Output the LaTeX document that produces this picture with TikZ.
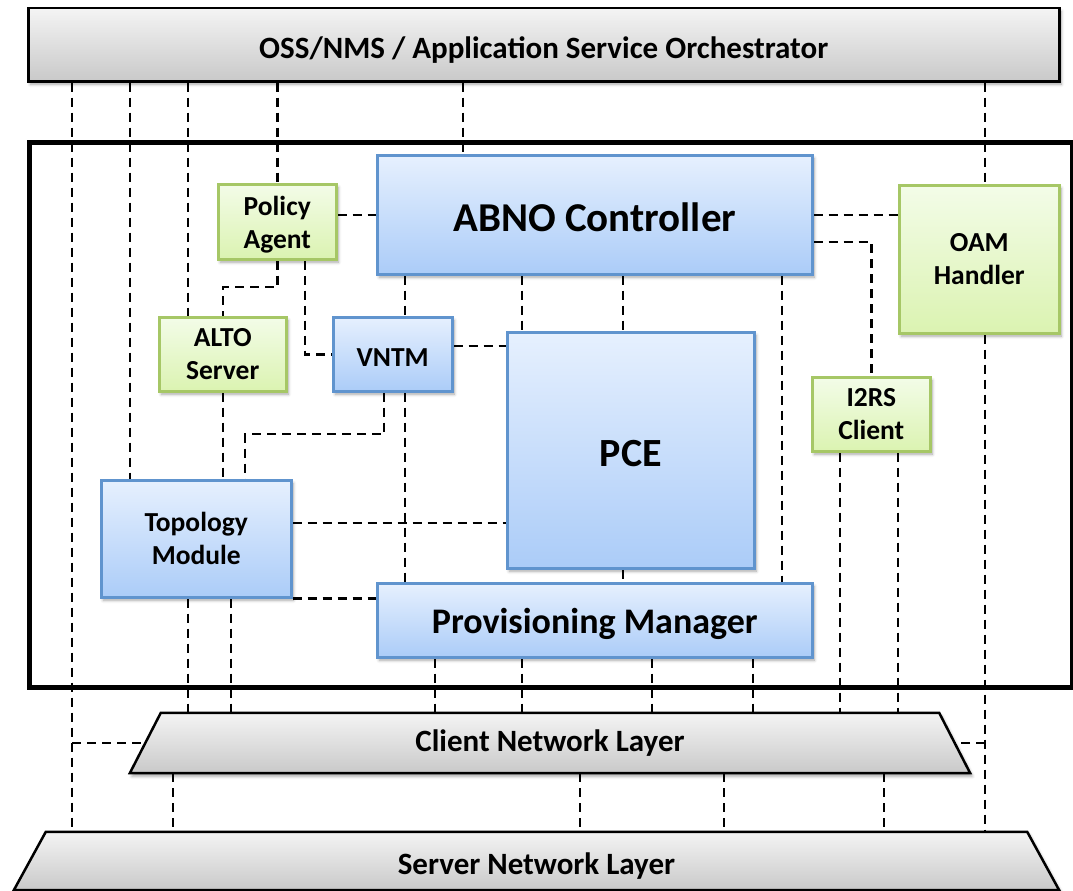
\documentclass[tikz,border=0pt]{standalone}
\usepackage{fontspec}
\setmainfont{Carlito}
\usetikzlibrary{shadows.blur,backgrounds}

\definecolor{blueTop}{HTML}{E6F0FE}
\definecolor{blueBot}{HTML}{ABCCF8}
\definecolor{blueLine}{HTML}{6094CE}
\definecolor{greenTop}{HTML}{F3FCE8}
\definecolor{greenBot}{HTML}{DBF3B1}
\definecolor{greenLine}{HTML}{A6C766}
\definecolor{barTop}{HTML}{F4F4F4}
\definecolor{barBot}{HTML}{C9C9C9}

% set a line of text lower without changing its reported size
\newcommand\dropline[2]{\raisebox{-#1}[\height][\depth]{#2}}

\pgfdeclarelayer{layershapes}
\pgfsetlayers{background,layershapes,main}

\tikzset{
  shadowed/.style={blur shadow={shadow xshift=2pt, shadow yshift=-3pt,
      shadow blur radius=3pt, shadow opacity=35}},
  block/.style={rectangle, anchor=north west, inner sep=0pt, align=center,
      shadowed},
  smalltext/.style={font=\bfseries\fontsize{27.5}{33}\selectfont},
  bluebox/.style={block, draw=blueLine, line width=2.5pt,
      top color=blueTop, bottom color=blueBot},
  greenbox/.style={block, draw=greenLine, line width=2.5pt,
      top color=greenTop, bottom color=greenBot},
  barbox/.style={block, draw=black, line width=2.5pt,
      top color=barTop, bottom color=barBot,
      font=\bfseries\fontsize{31}{36}\selectfont},
  layertext/.style={rectangle, inner sep=0pt,
      font=\bfseries\fontsize{31}{36}\selectfont},
  layershape/.style={draw=black, line width=2.5pt, line join=miter,
      top color=barTop, bottom color=barBot, shadowed},
  link/.style={draw=black, line width=2.5pt, dash pattern=on 9pt off 6pt},
}

\begin{document}
\begin{tikzpicture}[x=1pt, y=-1pt]
\useasboundingbox (0,0) rectangle (1073,891);

% orchestrator bar and the controller frame
\node[barbox, minimum width=1031pt, minimum height=73pt] (top) at (27,7)
  {\dropline{5pt}{OSS/NMS / Application Service Orchestrator}};
\node[draw, line width=4.5pt, anchor=north west, inner sep=0pt,
      minimum width=1043pt, minimum height=545pt] (frame) at (27,140) {};

% functional components
\node[bluebox, minimum width=435pt, minimum height=119pt,
      font=\bfseries\fontsize{41}{48}\selectfont] (abno) at (376,154)
  {\dropline{3pt}{ABNO Controller}};
\node[greenbox, smalltext, minimum width=118pt, minimum height=75pt] (pa) at (217,183)
  {\dropline{3pt}{Policy}\\\dropline{3pt}{Agent}};
\node[greenbox, smalltext, minimum width=160pt, minimum height=148pt] (oam) at (898,184)
  {OAM\\Handler};
\node[greenbox, smalltext, minimum width=127pt, minimum height=74pt] (alto) at (158,316)
  {ALTO\\Server};
\node[bluebox, smalltext, minimum width=119pt, minimum height=74pt] (vntm) at (332,316)
  {\dropline{3pt}{VNTM}};
\node[bluebox, minimum width=247pt, minimum height=236pt,
      font=\bfseries\fontsize{40}{48}\selectfont] (pce) at (506,331)
  {\dropline{3pt}{PCE}};
\node[greenbox, smalltext, minimum width=118pt, minimum height=74pt] (i2rs) at (811,376)
  {I2RS\\Client};
\node[bluebox, smalltext, minimum width=190pt, minimum height=117pt] (topo) at (100,479)
  {Topology\\Module};
\node[bluebox, minimum width=435pt, minimum height=74pt,
      font=\bfseries\fontsize{36}{42}\selectfont] (pm) at (376,582)
  {\dropline{4pt}{Provisioning Manager}};

% network layers: the node spans the top edge, the slanted outline is drawn below it
\node[layertext, minimum width=778pt, minimum height=60pt] (client) at (550,743)
  {Client Network Layer};
\node[layertext, minimum width=981pt, minimum height=58pt] (server) at (536.5,861)
  {\dropline{5pt}{Server Network Layer}};

\begin{pgfonlayer}{layershapes}
  \path[layershape] (client.north west) -- (client.north east)
    -- ([xshift=31pt]client.south east) -- ([xshift=-31pt]client.south west) -- cycle;
  \path[layershape] (server.north west) -- (server.north east)
    -- ([xshift=32pt]server.south east) -- ([xshift=-32pt]server.south west) -- cycle;
\end{pgfonlayer}

\begin{pgfonlayer}{background}
  % links from the orchestrator
  \draw[link] (top.south -| 72,0) -- (server.north -| 72,0);
  \draw[link] (client.west -| 72,0) -- ([xshift=-15.5pt]client.west);
  \draw[link] (top.south -| 130,0) -- (topo.north -| 130,0);
  \draw[link] (top.south -| 188,0) -- (alto.north -| 188,0);
  \draw[link] (top.south -| pa.north) -- (pa.north);
  \draw[link] (top.south -| 463,0) -- (abno.north -| 463,0);
  \draw[link] (top.south -| 985,0) -- (oam.north -| 985,0);
  \draw[link] (oam.south -| 985,0) -- (server.north -| 985,0);
  \draw[link] (client.east -| 985,0) -- ([xshift=15.5pt]client.east);

  % policy agent
  \draw[link] (abno.west -| pa.east) -- (abno.west);
  \draw[link] (pa.south) |- (alto.north |- 0,287) -- (alto.north);
  \draw[link] (pa.south -| 305,0) |- (vntm.west);

  % ABNO controller
  \draw[link] (abno.east) -- (abno.east -| oam.west);
  \draw[link] (abno.east |- 0,242) -| (i2rs.north);
  \draw[link] (abno.south -| 405,0) -- (vntm.north -| 405,0);
  \draw[link] (abno.south -| 522,0) -- (pce.north -| 522,0);
  \draw[link] (abno.south -| 623,0) -- (pce.north -| 623,0);
  \draw[link] (abno.south -| 782,0) -- (pm.north -| 782,0);

  % VNTM
  \draw[link] (vntm.east |- 0,346) -- (pce.west |- 0,346);
  \draw[link] (vntm.south -| 405,0) -- (pm.north -| 405,0);
  \draw[link] (vntm.south -| 384,0) |- (245,434) -- (topo.north -| 245,0);

  % ALTO server
  \draw[link] (alto.south) -- (topo.north -| alto.south);

  % topology module
  \draw[link] (topo.east |- 0,523) -- (pce.west |- 0,523);
  \draw[link] (topo.south east) -- (topo.south east -| pm.west);
  \foreach \x in {188,231}
    \draw[link] (topo.south -| \x,0) -- (client.north -| \x,0);

  % PCE
  \draw[link] (pce.south -| 623,0) -- (pm.north -| 623,0);

  % provisioning manager and I2RS client down to the client layer
  \foreach \x in {435,522,652,753}
    \draw[link] (pm.south -| \x,0) -- (client.north -| \x,0);
  \foreach \x in {840,898}
    \draw[link] (i2rs.south -| \x,0) -- (client.north -| \x,0);

  % client layer to server layer
  \foreach \x in {173,580,724,884}
    \draw[link] (client.south -| \x,0) -- (server.north -| \x,0);
\end{pgfonlayer}
\end{tikzpicture}
\end{document}
